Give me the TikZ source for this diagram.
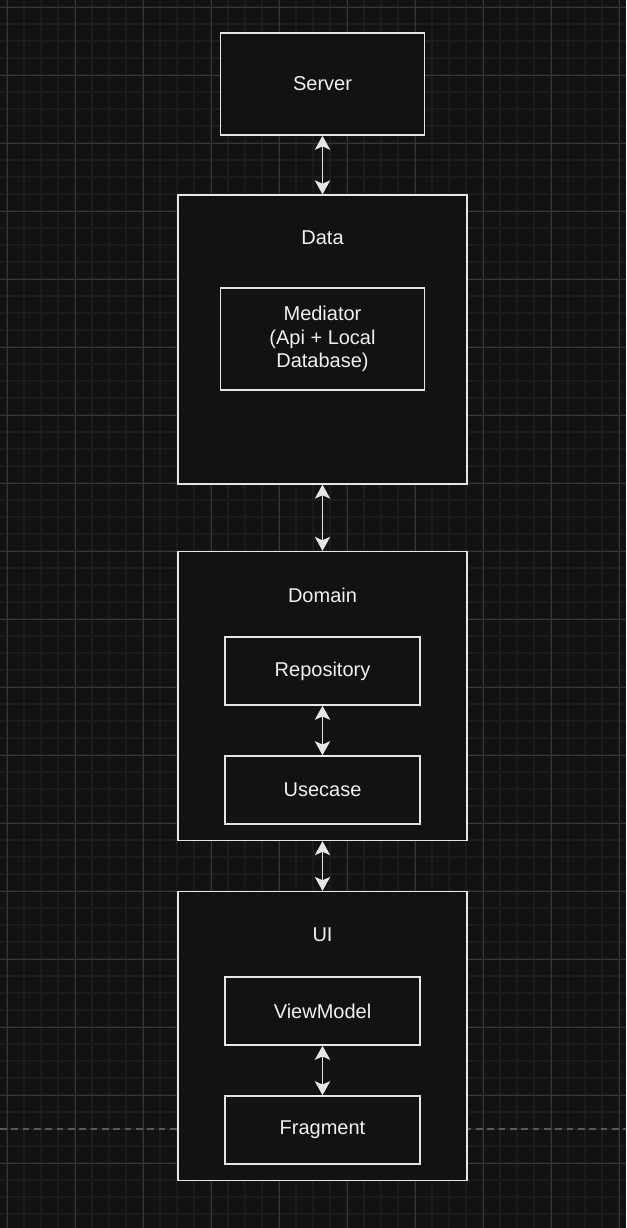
\documentclass[tikz,border=0pt]{standalone}
\usepackage{fontspec}
\setmainfont{Liberation Sans}
\usetikzlibrary{arrows.meta}

\definecolor{bgcol}{RGB}{18,18,18}
\definecolor{minorcol}{RGB}{28,28,28}
\definecolor{majorcol}{RGB}{54,54,54}
\definecolor{linecol}{RGB}{230,230,230}
\definecolor{txtcol}{RGB}{240,240,240}
\definecolor{dashcol}{RGB}{88,88,88}

\def\txtfont{\fontsize{15}{17.6}\selectfont}

\tikzset{
	layer/.style={draw=linecol, fill=bgcol, line width=1.2pt, minimum width=216.75pt, minimum height=216.5pt, inner sep=0pt},
	outerbox/.style={draw=linecol, fill=bgcol, line width=1.2pt, minimum width=153pt, minimum height=76.5pt, inner sep=0pt, text=txtcol, font=\txtfont, align=center},
	innerbox/.style={draw=linecol, fill=bgcol, line width=1.2pt, minimum width=146.25pt, minimum height=51pt, inner sep=0pt, text=txtcol, font=\txtfont, align=center},
	title/.style={text=txtcol, font=\txtfont},
	link/.style={draw=linecol, line width=1.1pt, {Stealth[length=10.5pt, width=11.5pt, inset=2.5pt]}-{Stealth[length=10.5pt, width=11.5pt, inset=2.5pt]}},
}

\begin{document}
\begin{tikzpicture}[x=0.75pt, y=-0.75pt]
			\useasboundingbox (0,0) rectangle (626,1228);
			\fill[bgcol] (0,0) rectangle (626,1228);

			% background grid
			\foreach \i in {0,...,36} \draw[minorcol, line width=0.9pt] (7+17*\i,0) -- (7+17*\i,1228);
			\foreach \i in {0,...,71} \draw[minorcol, line width=0.9pt] (0,7+17*\i) -- (626,7+17*\i);
			\foreach \i in {0,...,9} \draw[majorcol, line width=0.75pt] (7+68*\i,0) -- (7+68*\i,1228);
			\foreach \i in {0,...,18} \draw[majorcol, line width=0.75pt] (0,7+68*\i) -- (626,7+68*\i);
			\draw[dashcol, line width=1.1pt, dash pattern=on 5pt off 3.5pt] (0,1129) -- (626,1129);

			% server
			\node[outerbox] (server) at (322.5,84) {Server};

			% data layer
			\node[layer] (data) at (322.5,339.5) {};
			\node[title] (datatitle) at (322.5,238) {Data};
			\node[outerbox] (mediator) at (322.5,339) {Mediator\\(Api + Local\\Database)};

			% domain layer
			\node[layer] (domain) at (322.5,696) {};
			\node[title] (domaintitle) at (322.5,595) {Domain};
			\node[innerbox] (repository) at (322.5,671) {Repository};
			\node[innerbox] (usecase) at (322.5,790) {Usecase};

			% ui layer
			\node[layer] (ui) at (322.5,1036) {};
			\node[title] (uititle) at (322.5,935) {UI};
			\node[innerbox] (viewmodel) at (322.5,1011) {ViewModel};
			\node[innerbox] (fragment) at (322.5,1130) {Fragment};

			% links
			\draw[link] (server.south) -- (data.north);
			\draw[link] (data.south) -- (domain.north);
			\draw[link] (repository.south) -- (usecase.north);
			\draw[link] (domain.south) -- (ui.north);
			\draw[link] (viewmodel.south) -- (fragment.north);
		\end{tikzpicture}
\end{document}
